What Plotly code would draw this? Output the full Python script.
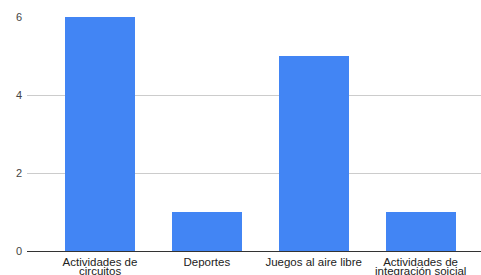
import plotly.graph_objects as go

categories = ["Actividades de circuitos", "Deportes", "Juegos al aire libre", "Actividades de integración soicial"]
tick_line1 = ["Actividades de", "Deportes", "Juegos al aire libre", "Actividades de"]
tick_line2 = ["circuitos", "", "", "integración soicial"]
values = [6, 1, 5, 1]
y_ticks = [0, 2, 4, 6]

FONT = "Liberation Sans, Arial, sans-serif"
xs = list(range(len(categories)))
fig = go.Figure(go.Bar(
    x=xs, y=values,
    marker=dict(color="#4285F4", line=dict(width=0)),
    width=0.655,
    hovertext=categories,
))

for i, t in enumerate(tick_line2):
    if t:
        fig.add_annotation(
            x=xs[i], xref="x", y=-0.084, yref="paper", yanchor="middle",
            text=t, showarrow=False,
            font=dict(family=FONT, size=11.5, color="#222"),
        )

fig.update_layout(
    width=481, height=275,
    margin=dict(l=27, r=0, t=17, b=24, autoexpand=False),
    plot_bgcolor="white", paper_bgcolor="white",
    font=dict(family=FONT, size=11, color="#222"),
    showlegend=False,
    bargap=0,
)
fig.update_xaxes(
    range=[-0.683, 3.566], automargin=False,
    tickmode="array", tickvals=xs, ticktext=tick_line1,
    showgrid=False, showline=True, linecolor="#333", linewidth=1,
    ticks="", tickfont=dict(size=11.5, color="#222"), ticklabelstandoff=0,
)
fig.update_yaxes(
    range=[0, 6], tickvals=y_ticks, automargin=False,
    showgrid=True, gridcolor="#cccccc", gridwidth=1,
    zeroline=False, showline=False, ticks="",
    tickfont=dict(size=11, color="#444"),
    ticklabelstandoff=4,
)

fig.write_html("out.html", config={"displayModeBar": False},
               post_script="document.body.style.margin='0';document.body.style.overflow='hidden';")
